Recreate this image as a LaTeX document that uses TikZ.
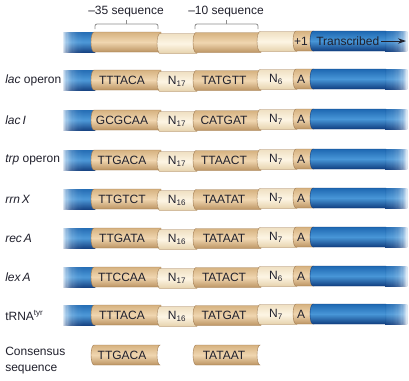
\documentclass[tikz,border=0pt]{standalone}
\usepackage{fontspec}
\setmainfont{Liberation Sans}
\usetikzlibrary{arrows.meta}

\definecolor{tanL}{RGB}{240,214,176}
\definecolor{tanM}{RGB}{214,178,128}
\definecolor{tanD}{RGB}{188,148,98}
\definecolor{tanE}{RGB}{160,122,80}
\definecolor{creamL}{RGB}{253,245,228}
\definecolor{creamD}{RGB}{230,210,172}
\definecolor{blueL}{RGB}{72,150,215}
\definecolor{blueM}{RGB}{30,104,178}
\definecolor{blueD}{RGB}{16,62,128}
\definecolor{inkc}{RGB}{32,32,44}

\newcommand{\seqfont}{\fontsize{9}{11}\selectfont}

\tikzset{
  tanbox/.style={top color=tanM, bottom color=tanD, middle color=tanL, draw=tanE, line width=0.3pt},
  gapbox/.style={top color=creamD!60!creamL, bottom color=creamD, middle color=creamL, draw=tanE, line width=0.3pt},
  bluetube/.style={top color=blueM, bottom color=blueD, middle color=blueL},
  seqtext/.style={text=inkc, font=\seqfont, inner sep=0pt},
  rowlabel/.style={anchor=west, text=inkc, font=\seqfont, inner sep=0pt},
  bracket/.style={draw=black!45, line width=0.6pt, rounded corners=1.5pt},
}

% one piece of the tube, rounded on its left end: style, x from, x to, y
\newcommand{\bulgeseg}[4]{%
  \path[#1] (#2+3,#4+10) arc[start angle=90,end angle=270,x radius=3,y radius=10]
    -- (#3,#4-10) -- (#3,#4+10) -- cycle;}

% the whole tube of one row, at height #1
\newcommand{\dnatube}[1]{%
  \foreach \i in {0,...,17}
    \shade[bluetube, fill opacity=0.17] ({63+\i*1.2},#1-10) rectangle (95,#1+10);
  \bulgeseg{tanbox}{91}{161}{#1}
  \bulgeseg{gapbox}{157}{197}{#1+1.5}
  \bulgeseg{tanbox}{193}{261}{#1+0.5}
  \bulgeseg{gapbox}{257}{297}{#1-0.5}
  \bulgeseg{tanbox}{293}{314}{#1-1}
  \bulgeseg{bluetube,draw=blueD,line width=0.3pt}{310}{386}{#1-1}
  \foreach \i in {0,...,17}
    \shade[bluetube, fill opacity=0.17] (385,#1-11) rectangle ({386+\i*1.25},#1+9);
}

\begin{document}
\begin{tikzpicture}[x=0.75pt,y=-0.75pt]
			%%%%% START %%%%%
			\useasboundingbox (0,0) rectangle (409,380);
			
			% top row, the promoter regions
			\node[seqtext] (lab35) at (126,12) {\textendash35 sequence};
			\node[seqtext] (lab10) at (226,12) {\textendash10 sequence};
			\draw[bracket] (95,29) -- (95,24) -- (158,24) -- (158,29);
			\draw[bracket] (126.5,24) -- (126.5,19.5);
			\draw[bracket] (195,29) -- (195,24) -- (258,24) -- (258,29);
			\draw[bracket] (226.5,24) -- (226.5,19.5);
			
			\dnatube{42}
			\node[seqtext] (plus1) at (301,41) {+1};
			\node[seqtext, anchor=west] (transcr) at (316,41) {Transcribed};
			\coordinate (tip) at (406,41);
			\draw[-{Stealth[length=6pt,width=4pt]}, line width=0.6pt, inkc] (transcr.east) ++(2,0) -- (tip);
			
			% the promoters
			\foreach \yy/\lbl/\sa/\na/\sb/\nb [count=\r] in {
			  80/{\textit{lac} operon}/TTTACA/17/TATGTT/6,
			  120/{\textit{lac\,I}}/GCGCAA/17/CATGAT/7,
			  160/{\textit{trp} operon}/TTGACA/17/TTAACT/7,
			  199/{\textit{rrn\,X}}/TTGTCT/16/TAATAT/7,
			  238/{\textit{rec\,A}}/TTGATA/16/TATAAT/7,
			  277/{\textit{lex\,A}}/TTCCAA/17/TATACT/6,
			  315/{tRNA\textsuperscript{tyr}}/TTTACA/16/TATGAT/7}{
			  \dnatube{\yy}
			  \node[rowlabel] (lab\r) at (5,\yy) {\lbl};
			  \node[seqtext] (a\r) at (122,\yy) {\sa};
			  \node[seqtext] (n\r) at (177,\yy+1.5) {N\textsubscript{\na}};
			  \node[seqtext] (b\r) at (224,\yy+0.5) {\sb};
			  \node[seqtext] (m\r) at (276,\yy-0.5) {N\textsubscript{\nb}};
			  \node[seqtext] (p\r) at (301,\yy-1) {A};
			}
			
			% consensus
			\path[tanbox] (94,365) arc[start angle=90,end angle=270,x radius=3,y radius=10]
			  -- (160,345) arc[start angle=270,end angle=90,x radius=3,y radius=10] -- cycle;
			\path[tanbox] (196,365) arc[start angle=90,end angle=270,x radius=3,y radius=10]
			  -- (260,345) arc[start angle=270,end angle=90,x radius=3,y radius=10] -- cycle;
			\node[seqtext] (consa) at (122,355) {TTGACA};
			\node[seqtext] (consb) at (224,355) {TATAAT};
			\node[rowlabel, align=left, font=\fontsize{9}{12}\selectfont] (labcons) at (5,361) {Consensus\\sequence};
			
			%%%%% END %%%%%
		\end{tikzpicture}
\end{document}
